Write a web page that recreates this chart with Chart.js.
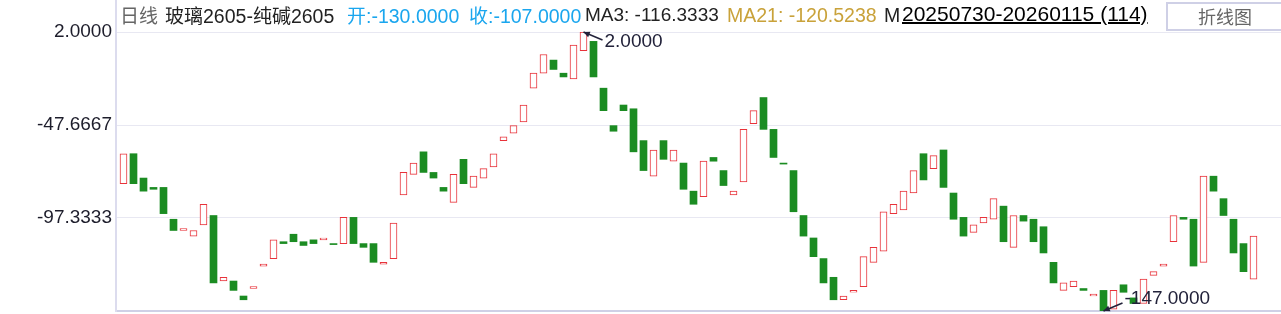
<!DOCTYPE html>
<html>
<head>
<meta charset="utf-8">
<script src="https://cdn.jsdelivr.net/npm/chart.js@4.4.1/dist/chart.umd.min.js"></script>
<style>
  body { margin: 0; background: #fff; }
  #wrap { position: relative; width: 1281px; height: 314px; overflow: hidden;
          font-family: "Liberation Sans", Arial, "Noto Sans CJK SC", sans-serif; }
  #chart { position: absolute; left: 0; top: 0; }
  .h { position: absolute; top: 1px; line-height: 28px; font-size: 19.5px; white-space: nowrap; }
  .cjk { font-family: "Noto Sans CJK SC", sans-serif; font-size: 19px; }
  #axisTop { position: absolute; left: 115px; top: 0; width: 2px; height: 32px; background: #dcdcee; }
  #btn { position: absolute; left: 1166px; top: 2px; width: 130px; height: 29px; border: 2px solid #cfd0e6;
         box-sizing: border-box; }
  #btn span { position: absolute; left: 30px; top: 0; line-height: 25px; font-size: 18px; color: #666; }
</style>
</head>
<body>
<div id="wrap">
  <canvas id="chart" width="1281" height="314"></canvas>
  <div id="axisTop"></div>
  <span class="h cjk" style="left:120px;color:#666">日线</span>
  <span class="h" style="left:165px;color:#222"><span class="cjk">玻璃</span>2605-<span class="cjk">纯碱</span>2605</span>
  <span class="h" style="left:347px;color:#1aa6ee"><span class="cjk">开</span>:-130.0000</span>
  <span class="h" style="left:469px;color:#1aa6ee"><span class="cjk">收</span>:-107.0000</span>
  <span class="h" style="left:585px;color:#222;font-size:19px">MA3: -116.3333</span>
  <span class="h" style="left:727px;color:#c9a23a">MA21: -120.5238</span>
  <span class="h" style="left:884px;color:#222">M</span>
  <span class="h" style="left:902px;top:0;color:#000;font-size:21px;text-decoration:underline;text-decoration-thickness:2px">20250730-20260115 (114)</span>
  <div id="btn"><span class="cjk" style="font-size:18px">折线图</span></div>
</div>
<script>
// 玻璃2605-纯碱2605 daily spread, one entry per trading day
const days = Array.from({ length: 114 }, (_, i) => String(i + 1));

const opens = [
  -79, -63, -76, -81, -81, -98, -104, -107, -101, -96,
  -131, -131, -139, -135, -123, -119, -110, -106, -110, -109,
  -109, -111, -111, -97, -111, -111, -122, -119, -85, -74,
  -62, -73, -81, -89, -66, -81, -76, -70, -56, -52,
  -46, -28, -20, -13, -20, -23, -8, -3, -28, -48,
  -37, -39, -56, -75, -56, -67, -68, -83, -86, -65,
  -72, -85, -78, -47, -33, -50, -68, -72, -96, -108,
  -119, -129, -141, -137, -134, -121, -115, -95, -93, -84,
  -63, -71, -61, -84, -97, -105, -100, -98, -91, -113,
  -96, -98, -102, -121, -136, -134, -135, -139, -136, -146,
  -133, -140, -143, -128, -123, -110, -97, -98, -121, -75,
  -87, -98, -111, -130
];
const closes = [
  -63, -79, -83, -82, -95, -104, -103, -104, -90, -132,
  -129, -136, -141, -134, -122, -109, -111, -110, -112, -111,
  -108, -111, -97, -111, -113, -121, -121, -100, -73, -68,
  -73, -76, -83, -74, -79, -75, -71, -63, -54, -48,
  -37, -20, -10, -18, -22, -5, 2, -22, -40, -51,
  -40, -62, -72, -61, -66, -61, -82, -90, -67, -67,
  -80, -83, -50, -40, -50, -65, -68, -94, -107, -118,
  -132, -141, -139, -136, -118, -113, -94, -90, -83, -72,
  -77, -64, -81, -98, -107, -101, -97, -87, -110, -96,
  -99, -110, -116, -132, -132, -131, -136, -138, -147, -136,
  -137, -143, -130, -126, -122, -96, -98, -123, -75, -83,
  -96, -116, -126, -107
];

const yTicks = [2, -47.6667, -97.3333, -147];

const RED = '#e8323a';
const GREEN = '#1b8c22';
const up = i => closes[i] > opens[i];

const bars = opens.map((o, i) => ({ x: i, y: [o, closes[i]] }));

// arrows + labels on the highest and lowest body
const drawMark = (ctx, px, py, dir, v) => {
  const ex = px + 19, ey = py + dir * 8;
  ctx.save();
  ctx.strokeStyle = '#22223a';
  ctx.fillStyle = '#22223a';
  ctx.lineWidth = 1.6;
  ctx.beginPath();
  ctx.moveTo(ex, ey);
  ctx.lineTo(px, py);
  ctx.stroke();
  const a = Math.atan2(py - ey, px - ex);
  ctx.beginPath();
  ctx.moveTo(px, py);
  ctx.lineTo(px - 7 * Math.cos(a - 0.45), py - 7 * Math.sin(a - 0.45));
  ctx.lineTo(px - 7 * Math.cos(a + 0.45), py - 7 * Math.sin(a + 0.45));
  ctx.closePath();
  ctx.fill();
  ctx.font = '19px "Liberation Sans", Arial, sans-serif';
  ctx.textBaseline = 'middle';
  ctx.textAlign = 'left';
  ctx.fillText(v.toFixed(4), px + 21, py + (dir > 0 ? 10 : -12));
  ctx.restore();
};

const markers = {
  id: 'markers',
  afterDatasetsDraw(chart) {
    const { ctx, scales: { x, y } } = chart;
    const highs = opens.map((o, i) => Math.max(o, closes[i]));
    const lows = opens.map((o, i) => Math.min(o, closes[i]));
    const hi = highs.indexOf(Math.max(...highs));
    const lo = lows.indexOf(Math.min(...lows));
    drawMark(ctx, x.getPixelForValue(hi), y.getPixelForValue(highs[hi]), 1, highs[hi]);
    drawMark(ctx, x.getPixelForValue(lo), y.getPixelForValue(lows[lo]), -1, lows[lo]);
  }
};

const chart = new Chart('chart', {
  type: 'bar',
  data: {
    labels: days,
    datasets: [{
      data: bars,
      backgroundColor: c => up(c.dataIndex) ? '#ffffff' : GREEN,
      borderColor: c => up(c.dataIndex) ? RED : GREEN,
      borderWidth: c => up(c.dataIndex) ? 1 : 0,
      borderSkipped: false,
      barThickness: 7,
      minBarLength: 1
    }]
  },
  options: {
    responsive: false,
    animation: false,
    layout: { padding: { top: 32, bottom: 3, left: 0, right: 0 } },
    plugins: { legend: { display: false }, tooltip: { enabled: false } },
    scales: {
      x: { type: 'linear', display: false, offset: false, min: -0.75, max: 115.75 },
      y: {
        min: -147,
        max: 2,
        afterFit: s => { s.width = 116; s.paddingTop = 0; s.paddingBottom = 0; },
        afterBuildTicks: s => { s.ticks = yTicks.map(v => ({ value: v })); },
        ticks: {
          callback: v => v === -147 ? '' : v.toFixed(4),
          font: { family: 'Liberation Sans', size: 19 },
          color: '#1d1d2b',
          padding: 4
        },
        grid: {
          drawTicks: false,
          color: c => c.tick && c.tick.value === -147 ? '#cfd0e6' : '#e8e8f2',
          lineWidth: c => c.tick && c.tick.value === -147 ? 2 : 1
        },
        border: { color: '#dcdcee', width: 2 }
      }
    }
  },
  plugins: [markers]
});
</script>
</body>
</html>
